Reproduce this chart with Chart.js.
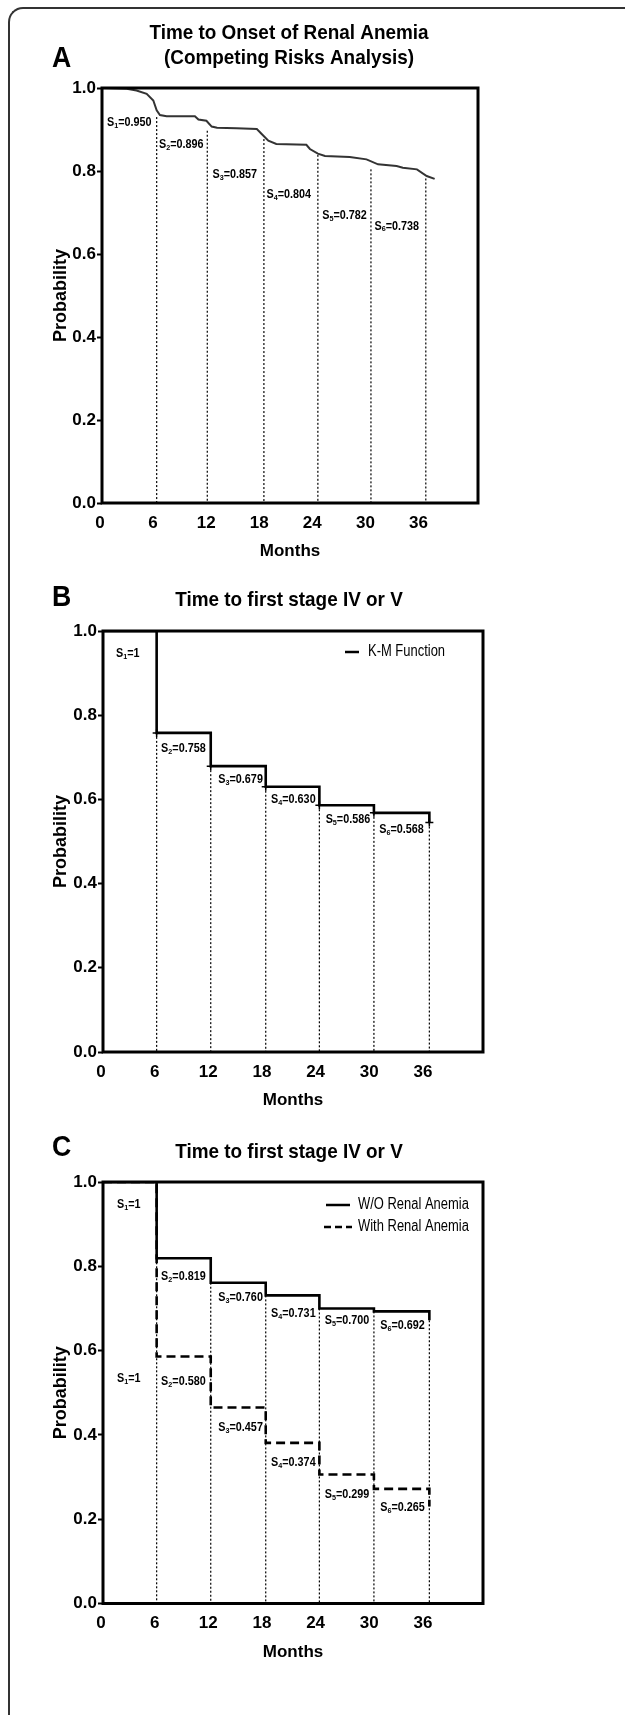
<!DOCTYPE html>
<html>
<head>
<meta charset="utf-8">
<script src="https://cdn.jsdelivr.net/npm/chart.js@4.4.1/dist/chart.umd.min.js"></script>
<style>
  html, body { margin: 0; padding: 0; background: #fff; }
  body { width: 625px; height: 1715px; position: relative; overflow: hidden; }
  #frame { position: absolute; left: 8px; top: 7px; width: 700px; height: 1800px;
           border-left: 2px solid #333; border-top: 2px solid #333; border-top-left-radius: 15px; }
  canvas { position: absolute; left: 0; }
</style>
</head>
<body>
<div id="frame"></div>
<canvas id="cA" width="625" height="565" style="top:0px"></canvas>
<canvas id="cB" width="625" height="550" style="top:565px"></canvas>
<canvas id="cC" width="625" height="600" style="top:1115px"></canvas>
<script>
// ---------- shared axis data ----------
const xTicks = [0, 6, 12, 18, 24, 30, 36];
const yTicks = [0, 0.2, 0.4, 0.6, 0.8, 1.0];
const X_MAX = 42.5;
const xTitle = 'Months';
const yTitle = 'Probability';

// ---------- Panel A ----------
const aLetter = 'A';
const aTitle = ['Time to Onset of Renal Anemia', '(Competing Risks Analysis)'];
const aMonths = [0, 2.8, 3.9, 5.05, 5.8, 6.18, 6.55, 7.3, 10.5, 10.9, 11.8, 12.4, 13.0, 15.2, 17.5, 18.05, 18.8, 19.7, 23.1, 23.5, 24.4, 25.2, 28.0, 29.9, 31.2, 33.3, 34.0, 35.6, 36.7, 37.6];
const aProb   = [1, 0.998, 0.994, 0.986, 0.97, 0.946, 0.935, 0.932, 0.932, 0.924, 0.921, 0.907, 0.904, 0.903, 0.901, 0.889, 0.873, 0.865, 0.863, 0.853, 0.842, 0.836, 0.834, 0.828, 0.816, 0.812, 0.808, 0.804, 0.788, 0.781];
const aCutMonths = [6.18, 11.9, 18.3, 24.4, 30.4, 36.6];
const aCutTop    = [0.93, 0.897, 0.877, 0.839, 0.804, 0.782];
const aLabelText  = ['0.950', '0.896', '0.857', '0.804', '0.782', '0.738'];
const aLabelMonth = [0.56, 6.44, 12.5, 18.6, 24.9, 30.8];
const aLabelProb  = [0.916, 0.863, 0.790, 0.742, 0.692, 0.667];

// ---------- Panel B ----------
const bLetter = 'B';
const bTitle = 'Time to first stage IV or V';
const bLegend = 'K-M Function';
const bMonths = [0, 6.0, 12.05, 18.2, 24.2, 30.3, 36.5];
const bProb   = [1, 0.758, 0.679, 0.630, 0.586, 0.568, 0.545];
const bLabelText  = ['1', '0.758', '0.679', '0.630', '0.586', '0.568'];
const bLabelMonth = [1.45, 6.5, 12.9, 18.8, 24.9, 30.9];
const bLabelProb  = [0.947, 0.720, 0.646, 0.599, 0.551, 0.527];

// ---------- Panel C ----------
const cLetter = 'C';
const cTitle = 'Time to first stage IV or V';
const cLegend = ['W/O Renal Anemia', 'With Renal Anemia'];
const cMonths   = [0, 6.0, 12.05, 18.2, 24.2, 30.3, 36.5];
const cWithout  = [1, 0.819, 0.761, 0.731, 0.700, 0.693, 0.672];
const cWith     = [1, 0.586, 0.465, 0.381, 0.306, 0.272, 0.230];
const cLabelTextTop    = ['1', '0.819', '0.760', '0.731', '0.700', '0.692'];
const cLabelTextBottom = ['1', '0.580', '0.457', '0.374', '0.299', '0.265'];
const cLabelMonth      = [1.57, 6.5, 12.9, 18.8, 24.8, 31.0];
const cLabelProbTop    = [0.945, 0.775, 0.726, 0.688, 0.670, 0.660];
const cLabelProbBottom = [0.534, 0.526, 0.417, 0.334, 0.259, 0.228];

// ---------- helpers ----------
const FONT = '"Liberation Sans",Arial,Helvetica,sans-serif';
const X_AXIS_H = 59;

function pts(xs, ys) { return xs.map((x, i) => ({ x: x, y: ys[i] })); }

function cutDatasets(xs, tops) {
  return xs.map((x, i) => ({
    type: 'line', data: [{ x: x, y: tops[i] }, { x: x, y: 0 }],
    borderColor: '#000', borderWidth: 1.2, borderDash: [2, 2],
    pointRadius: 0, fill: false, order: 5
  }));
}

// condensed text: draw with a horizontal squeeze (the original typeface is narrow)
function squeezedText(ctx, text, x, y, font, sx, align) {
  ctx.save();
  ctx.font = font;
  ctx.fillStyle = '#000';
  ctx.textBaseline = 'middle';
  ctx.textAlign = 'left';
  const w = ctx.measureText(text).width * sx;
  let x0 = x;
  if (align === 'center') x0 = x - w / 2;
  ctx.translate(x0, y);
  ctx.scale(sx, 1);
  ctx.fillText(text, 0, 0);
  ctx.restore();
  return w;
}

function drawLabel(ctx, sub, val, x, y) {
  const SX = 0.9;
  let w = squeezedText(ctx, 'S', x, y, 'bold 12px ' + FONT, SX);
  w += squeezedText(ctx, String(sub), x + w, y + 3, 'bold 8px ' + FONT, SX);
  squeezedText(ctx, '=' + val, x + w, y, 'bold 12px ' + FONT, SX);
}

function makeChart(id, geom, datasets, decor) {
  const canvas = document.getElementById(id);
  const H = canvas.height;
  const framePlugin = {
    id: 'frame_' + id,
    afterDatasetsDraw(chart) {
      const ctx = chart.ctx, a = chart.chartArea;
      ctx.save();
      ctx.strokeStyle = '#000';
      ctx.lineWidth = 3;
      ctx.strokeRect(a.left, a.top, a.right - a.left, a.bottom - a.top);
      ctx.restore();
      decor(chart, ctx);
    }
  };
  return new Chart(canvas, {
    type: 'line',
    data: { datasets: datasets },
    options: {
      responsive: false, animation: false, devicePixelRatio: 1,
      layout: { padding: { top: geom.top, left: 0, right: 625 - geom.right, bottom: H - geom.bottom - X_AXIS_H } },
      plugins: { legend: { display: false }, tooltip: { enabled: false } },
      scales: {
        x: {
          type: 'linear', min: 0, max: X_MAX,
          afterBuildTicks: s => { s.ticks = xTicks.map(v => ({ value: v })); },
          afterFit: s => { s.height = X_AXIS_H; },
          grid: { display: false, drawTicks: false },
          border: { display: false },
          ticks: { font: { family: FONT, size: 17, weight: 'bold' }, color: '#000', padding: 10,
                   labelOffset: -2, maxRotation: 0, autoSkip: false, callback: v => String(v) },
          title: { display: true, text: xTitle, color: '#000', padding: { top: 0, bottom: 0 },
                   font: { family: FONT, size: 17, weight: 'bold' } }
        },
        y: {
          type: 'linear', min: 0, max: 1,
          afterBuildTicks: s => { s.ticks = yTicks.map(v => ({ value: v })); },
          afterFit: s => { s.width = geom.left; },
          grid: { display: true, drawOnChartArea: false, drawTicks: true, tickLength: 5,
                  tickWidth: 2, tickColor: '#000', color: '#000' },
          border: { display: false },
          ticks: { font: { family: FONT, size: 17, weight: 'bold' }, color: '#000', padding: 1,
                   callback: v => Number(v).toFixed(1) },
          title: { display: true, text: yTitle, color: '#000', padding: { top: 50, bottom: 0 },
                   font: { family: FONT, size: 18, weight: 'bold' } }
        }
      }
    },
    plugins: [framePlugin]
  });
}

function drawTitleText(ctx, text, x, y) {
  squeezedText(ctx, text, x, y, 'bold 21px ' + FONT, 0.9, 'center');
}
function drawLetter(ctx, text, x, y) {
  squeezedText(ctx, text, x, y, 'bold 29px ' + FONT, 0.92);
}
function drawLegendItem(ctx, text, x1, x2, y, dash, tx) {
  ctx.save();
  ctx.strokeStyle = '#000';
  ctx.lineWidth = 2.5;
  ctx.setLineDash(dash);
  ctx.beginPath(); ctx.moveTo(x1, y); ctx.lineTo(x2, y); ctx.stroke();
  ctx.restore();
  squeezedText(ctx, text, tx, y, '16px ' + FONT, 0.81);
}

// ---------- Panel A chart ----------
makeChart('cA', { top: 88, left: 102, right: 478, bottom: 503 },
  cutDatasets(aCutMonths, aCutTop).concat([{
    type: 'line', label: 'Competing risks', data: pts(aMonths, aProb),
    borderColor: '#333', borderWidth: 2, pointRadius: 0, fill: false, tension: 0, order: 1
  }]),
  (chart, ctx) => {
    const sx = chart.scales.x, sy = chart.scales.y;
    drawLetter(ctx, aLetter, 52, 59);
    drawTitleText(ctx, aTitle[0], 289, 33);
    drawTitleText(ctx, aTitle[1], 289, 58);
    aLabelText.forEach((t, i) => drawLabel(ctx, i + 1, t, sx.getPixelForValue(aLabelMonth[i]), sy.getPixelForValue(aLabelProb[i])));
  });

// ---------- Panel B chart ----------
makeChart('cB', { top: 66, left: 103, right: 483, bottom: 487 },
  cutDatasets(bMonths.slice(1), bProb.slice(1)).concat([{
    type: 'line', label: bLegend, data: pts(bMonths, bProb), stepped: 'before',
    borderColor: '#000', borderWidth: 2.6, fill: false, order: 1,
    pointStyle: 'cross', pointRadius: bMonths.map((m, i) => i === 0 ? 0 : 4),
    pointBorderColor: '#000', pointBorderWidth: 1.5
  }]),
  (chart, ctx) => {
    const sx = chart.scales.x, sy = chart.scales.y;
    drawLetter(ctx, bLetter, 52, 33);
    drawTitleText(ctx, bTitle, 289, 35);
    drawLegendItem(ctx, bLegend, 345, 359, 87, [], 368);
    bLabelText.forEach((t, i) => drawLabel(ctx, i + 1, t, sx.getPixelForValue(bLabelMonth[i]), sy.getPixelForValue(bLabelProb[i])));
  });

// ---------- Panel C chart ----------
makeChart('cC', { top: 67, left: 103, right: 483, bottom: 488.5 },
  cutDatasets(cMonths.slice(1), cWithout.slice(1)).concat([{
    type: 'line', label: cLegend[0], data: pts(cMonths, cWithout), stepped: 'before',
    borderColor: '#000', borderWidth: 2.6, pointRadius: 0, fill: false, order: 1
  }, {
    type: 'line', label: cLegend[1], data: pts(cMonths, cWith), stepped: 'before',
    borderColor: '#000', borderWidth: 2.6, borderDash: [9, 5], pointRadius: 0, fill: false, order: 2
  }]),
  (chart, ctx) => {
    const sx = chart.scales.x, sy = chart.scales.y;
    drawLetter(ctx, cLetter, 52, 33);
    drawTitleText(ctx, cTitle, 289, 37);
    drawLegendItem(ctx, cLegend[0], 326, 350, 90, [], 358);
    drawLegendItem(ctx, cLegend[1], 324, 352, 112, [7, 4], 358);
    cLabelTextTop.forEach((t, i) => drawLabel(ctx, i + 1, t, sx.getPixelForValue(cLabelMonth[i]), sy.getPixelForValue(cLabelProbTop[i])));
    cLabelTextBottom.forEach((t, i) => drawLabel(ctx, i + 1, t, sx.getPixelForValue(cLabelMonth[i]), sy.getPixelForValue(cLabelProbBottom[i])));
  });
</script>
</body>
</html>
